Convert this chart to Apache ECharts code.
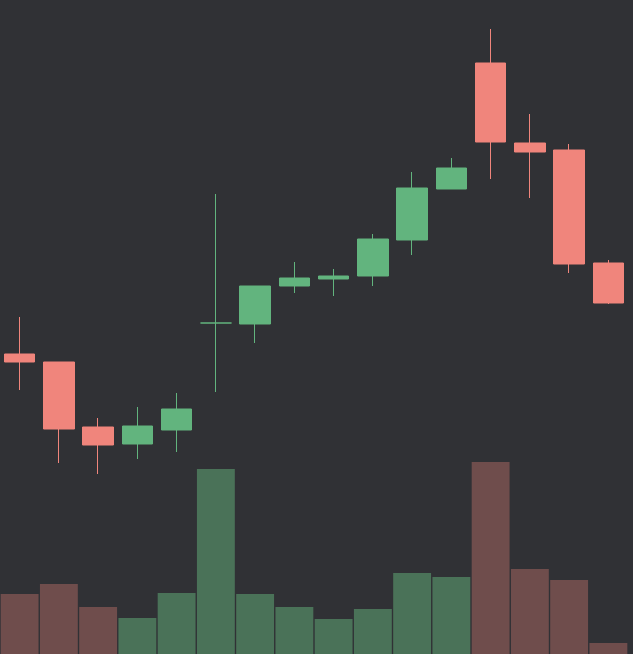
<!DOCTYPE html>
<html>
<head>
<meta charset="utf-8">
<script src="https://cdn.jsdelivr.net/npm/echarts@6/dist/echarts.min.js"></script>
<style>
html,body{margin:0;padding:0;background:#303135;}
#chart{width:633px;height:654px;}
</style>
</head>
<body>
<div id="chart"></div>
<script>
// Data (values on a 0..654 scale)
var categories = ['1','2','3','4','5','6','7','8','9','10','11','12','13','14','15','16'];
var openValues  = [300, 292, 227, 210, 224, 331, 330, 368, 375, 378, 414, 465, 591, 511, 504, 391];
var closeValues = [292, 225, 209, 228, 245, 331, 368, 376, 378, 415, 466, 486, 512, 502, 390, 351];
var lowValues   = [264, 191, 180, 195, 202, 262, 311, 361, 358, 368, 399, 465, 475, 456, 381, 350];
var highValues  = [337, 292, 236, 247, 261, 460, 368, 392, 385, 420, 482, 496, 625, 540, 510, 394];
var volumeValues = [60, 70, 47, 36, 61, 185, 60, 47, 35, 45, 81, 77, 192, 85, 74, 11];

var upColor = '#62b47e', downColor = '#f0857c';
var upVol = '#4a7258', downVol = '#6f4d4c';

var candleData = categories.map(function (c, i) {
  return [openValues[i], closeValues[i], lowValues[i], highValues[i]];
});
var volData = categories.map(function (c, i) {
  var up = closeValues[i] > openValues[i] ||
    (closeValues[i] === openValues[i] && i > 0 && closeValues[i] >= closeValues[i - 1]);
  return { value: volumeValues[i], itemStyle: { color: up ? upVol : downVol } };
});

var chart = echarts.init(document.getElementById('chart'));
chart.setOption({
  backgroundColor: '#303135',
  animation: false,
  grid: { left: -1, right: 5, top: 0, bottom: 0 },
  xAxis: {
    type: 'category', data: categories, boundaryGap: true, show: false
  },
  yAxis: [
    { type: 'value', min: 0, max: 654, show: false, splitLine: { show: false } },
    { type: 'value', min: 0, max: 654, show: false, splitLine: { show: false } }
  ],
  series: [
    {
      type: 'bar', yAxisIndex: 1, data: volData, barWidth: '96.5%', z: 1
    },
    {
      type: 'candlestick', yAxisIndex: 0, data: candleData, barWidth: '79%', z: 2,
      itemStyle: {
        color: upColor, color0: downColor,
        borderColor: upColor, borderColor0: downColor, borderWidth: 1
      }
    }
  ]
});
</script>
</body>
</html>
